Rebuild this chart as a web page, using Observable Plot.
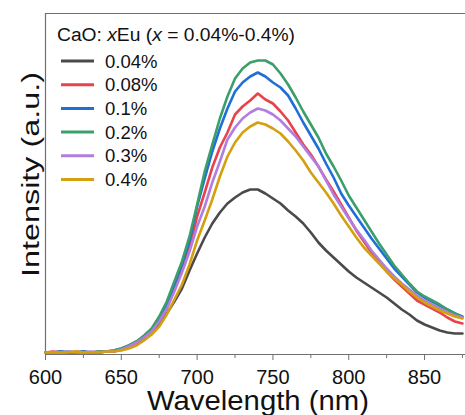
<!DOCTYPE html>
<html><head><meta charset="utf-8">
<script src="https://cdn.jsdelivr.net/npm/d3@7"></script>
<script src="https://cdn.jsdelivr.net/npm/@observablehq/plot@0.6"></script>
<style>
body{margin:0;background:#fff;}
#wrap{width:465px;height:415px;overflow:hidden;}
</style></head><body><div id="wrap"></div>
<script>
const wavelengths = [600,605,610,615,620,625,630,635,640,645,
  650,655,660,665,670,675,680,685,690,695,
  700,705,710,715,720,725,730,735,740,745,
  750,755,760,765,770,775,780,785,790,795,
  800,805,810,815,820,825,830,835,840,845,
  850,855,860,865,870,875];

const labels = ["0.04%","0.08%","0.1%","0.2%","0.3%","0.4%"];
const colors = ["#4a4a4a","#e8434a","#1f6fd6","#3a9f6a","#b07ee0","#d4a010"];

const s004 = [2,2,3,2,2,3,2,2,3,3, 5,7,11,17,23,30,41,53,66,84,
  101,117,131,142,151,157,162,165,165,161, 156,151,144,138,131,122,112,104,97,90,
  83,77,72,67,62,57,51,45,40,34, 30,27,24,22,21,21];
const s008 = [2,3,2,2,3,2,2,3,3,3, 5,8,12,17,24,34,47,65,85,107,
  138,162,187,207,222,240,248,254,261,255, 251,243,234,222,210,200,188,175,163,150,
  137,124,113,102,92,83,75,68,61,54, 50,46,42,37,33,31];
const s01 = [2,2,3,2,2,3,2,2,3,4, 6,9,13,18,25,36,50,70,90,114,
  148,176,203,226,246,263,272,278,282,278, 272,267,259,246,232,219,206,191,177,161,
  149,138,127,116,106,96,86,78,70,62, 57,53,49,45,41,38];
const s02 = [2,2,2,3,2,2,2,3,3,4, 6,9,13,19,26,38,53,73,93,118,
  150,183,210,236,258,276,286,292,294,294, 290,281,270,257,243,230,217,201,188,174,
  159,147,135,123,111,100,89,80,71,63, 58,54,50,45,41,37];
const s03 = [2,2,2,3,2,2,3,2,3,3, 5,8,12,17,23,33,46,63,82,103,
  128,148,172,193,215,227,236,242,246,244, 240,234,226,218,208,198,188,174,160,148,
  136,125,115,104,95,86,78,71,65,59, 54,50,46,42,39,37];
const s04 = [2,2,2,2,3,2,2,2,3,3, 4,6,9,14,20,28,40,55,70,90,
  114,134,155,178,198,212,222,228,232,230, 226,221,213,204,194,182,172,162,151,139,
  128,117,107,99,91,83,76,70,63,57, 52,48,44,41,38,36];

const seriesValues = [s004, s008, s01, s02, s03, s04];
const majorTicks = [600,650,700,750,800,850];
const minorTicks = [625,675,725,775,825,875];
const xTitle = "Wavelength (nm)";
const yTitle = "Intensity (a.u.)";
const legendTitle = ["CaO: ", "x", "Eu (", "x", " = 0.04%-0.4%)"];

const rows = labels.flatMap((lab, k) => wavelengths.map((w, i) => ({w, v: seriesValues[k][i], lab})));

const font = "'Liberation Sans', Arial, sans-serif";
const axisGray = "#707070";

const plot = Plot.plot({
  width: 465, height: 415,
  marginLeft: 45, marginRight: 0, marginTop: 13, marginBottom: 61,
  x: {domain: [600, 877], axis: null},
  y: {domain: [0, 341], axis: null},
  style: {fontFamily: font, background: "white", color: "#111"},
  marks: [
    Plot.ruleX([600], {stroke: axisGray, strokeWidth: 1.2}),
    Plot.ruleY([341], {stroke: axisGray, strokeWidth: 1.2}),
    Plot.ruleY([0], {stroke: axisGray, strokeWidth: 1.2}),
    ...labels.map((lab, k) => Plot.line(rows.filter(r => r.lab === lab),
      {x: "w", y: "v", stroke: colors[k], strokeWidth: 2.6, strokeLinejoin: "round"})),
    Plot.axisX({ticks: majorTicks, tickSize: 6, tickPadding: 9, fontSize: 20,
      stroke: axisGray, fill: "#111", label: null, tickFormat: d => String(d)}),
    Plot.axisX({ticks: minorTicks, tickSize: 4, stroke: axisGray, label: null, tickFormat: () => ""}),
    Plot.text([yTitle], {frameAnchor: "left", textAnchor: "middle", lineAnchor: "bottom", rotate: -90,
      dx: -6.5, dy: -9.5, fontSize: 23, text: d => d, fill: "#111", className: "ylab"}),
    Plot.text([xTitle], {frameAnchor: "bottom", textAnchor: "middle", lineAnchor: "bottom",
      dy: 55, dx: 2.5, fontSize: 27, text: d => d, fill: "#111", className: "xlab"})
  ]
});

document.getElementById("wrap").appendChild(plot);

// stretch axis titles to the reference's lengths
d3.select(plot).selectAll(".ylab text").attr("textLength", 205).attr("lengthAdjust", "spacingAndGlyphs");
d3.select(plot).selectAll(".xlab text").attr("textLength", 222).attr("lengthAdjust", "spacingAndGlyphs");

// Legend drawn inside the plot's SVG
const svg = d3.select(plot);
const g = svg.append("g").attr("font-family", font).attr("fill", "#111").attr("text-anchor", "start");
const title = g.append("text").attr("x", 57).attr("y", 41).attr("font-size", 18)
  .attr("textLength", 238).attr("lengthAdjust", "spacingAndGlyphs");
legendTitle.forEach((t, i) => title.append("tspan").text(t).attr("font-style", t === "x" ? "italic" : null));
labels.forEach((lab, k) => {
  const cy = 61 + k * 23.7;
  g.append("line").attr("x1", 61).attr("x2", 94).attr("y1", cy).attr("y2", cy)
    .attr("stroke", colors[k]).attr("stroke-width", 3);
  g.append("text").attr("x", 105).attr("y", cy + 6.6).attr("font-size", 18.5).text(lab);
});
</script></body></html>
